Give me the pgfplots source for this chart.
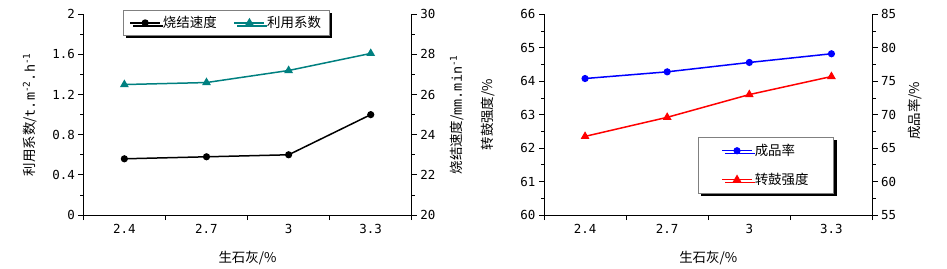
\documentclass[border=0pt]{standalone}
\usepackage{pgfplots}
\pgfplotsset{compat=1.18}
\usepackage{fontspec}
\setmainfont{Noto Sans CJK SC}
\newfontfamily\tickfont{DejaVu Sans Mono}
\usetikzlibrary{shadows}

\definecolor{tealline}{RGB}{0,128,128}

\newcommand\lblfont{\fontsize{13.5}{14}\selectfont}

\pgfplotsset{
  panel/.style={
    scale only axis, width=328.5bp, height=200.7bp,
    xmin=0.5, xmax=4.5,
    tick align=outside,
    major tick length=5bp, minor tick length=3bp,
    tick style={black, line width=0.75bp},
    axis line style={black, line width=0.75bp},
    ticklabel style={font=\fontsize{12.5}{13}\tickfont},
    /pgf/number format/assume math mode=true,
    clip=false,
  },
  firstax/.style={panel,
    axis y line*=left, axis x line*=bottom,
    xtick={0.5,1.5,2.5,3.5,4.5}, xticklabels={},
    extra x ticks={1,2,3,4}, extra x tick labels={2.4,2.7,3,3.3},
    extra x tick style={major tick length=0pt},
    xticklabel style={yshift=-6bp},
    minor y tick num=1,
    xlabel={生石灰/\%},
    every axis x label/.style={at={(axis description cs:0.5,-0.214)}, anchor=center, font=\lblfont},
  },
  secondax/.style={panel,
    axis x line=none, axis y line*=right,
    minor y tick num=1,
  },
  ylab/.style 2 args={every axis y label/.style={at={(axis description cs:#1,#2)},
    anchor=center, rotate=90, font=\lblfont}},
  legbox/.style={draw=gray, fill=white, line width=0.75bp,
    drop shadow={shadow xshift=3bp, shadow yshift=-3bp, fill=black, opacity=1},
    font=\lblfont},
  legend image code/.code={
    \draw[line width=1.5bp, mark repeat=2, mark phase=2]
      plot coordinates {(0bp,0bp) (15bp,0bp) (30bp,0bp)};},
  legend cell align=left,
}

\begin{document}
\begin{tikzpicture}
\path[use as bounding box] (0,0) rectangle (947bp,269bp);

% ---------- left panel ----------
\begin{axis}[firstax, at={(83.3bp,54bp)}, anchor=south west,
  ymin=0, ymax=2, ytick={0,0.4,...,2.0},
  yticklabels={0,0.4,0.8,1.2,1.6,2},
  ylabel={利用系数/{\tickfont t.m\textsuperscript{-2}.h\textsuperscript{-1}}},
  ylab={-0.162}{0.5},
]
\addplot[tealline, line width=1.5bp, mark=triangle*, mark size=3.6bp]
  coordinates {(1,1.30) (2,1.32) (3,1.44) (4,1.61)};
\end{axis}

\begin{axis}[secondax, at={(83.3bp,54bp)}, anchor=south west,
  ymin=20, ymax=30, ytick={20,22,...,30},
  ylabel={烧结速度/{\tickfont mm.min\textsuperscript{-1}}},
  ylab={1.138}{0.5},
  legend columns=2,
  legend style={legbox, at={(0.121,1.021)}, anchor=north west,
    /tikz/every even column/.append style={column sep=15bp},
    inner xsep=6bp, inner ysep=4bp},
]
\addplot[black, line width=1.5bp, mark=*, mark size=2.8bp]
  coordinates {(1,22.8) (2,22.9) (3,23.0) (4,25.0)};
\addlegendentry{烧结速度}
\addlegendimage{tealline, line width=1.5bp, mark=triangle*, mark size=3.6bp}
\addlegendentry{利用系数}
\end{axis}

% ---------- right panel ----------
\begin{axis}[firstax, at={(544bp,54bp)}, anchor=south west,
  ymin=60, ymax=66, ytick={60,...,66},
  ylabel={转鼓强度/\%},
  ylab={-0.170}{0.5},
]
\addplot[red, line width=1.5bp, mark=triangle*, mark size=3.6bp]
  coordinates {(1,62.35) (2,62.92) (3,63.60) (4,64.14)};
\end{axis}

\begin{axis}[secondax, at={(544bp,54bp)}, anchor=south west,
  ymin=55, ymax=85, ytick={55,60,...,85},
  ylabel={成品率/\%},
  ylab={1.129}{0.52},
  legend style={legbox, at={(0.4685,0.389)}, anchor=north west,
    row sep=12bp, inner xsep=23bp, inner ysep=5bp},
]
\addplot[blue, line width=1.5bp, mark=*, mark size=2.8bp]
  coordinates {(1,75.4) (2,76.4) (3,77.8) (4,79.1)};
\addlegendentry{成品率}
\addlegendimage{red, line width=1.5bp, mark=triangle*, mark size=3.6bp}
\addlegendentry{转鼓强度}
\end{axis}
\end{tikzpicture}
\end{document}
